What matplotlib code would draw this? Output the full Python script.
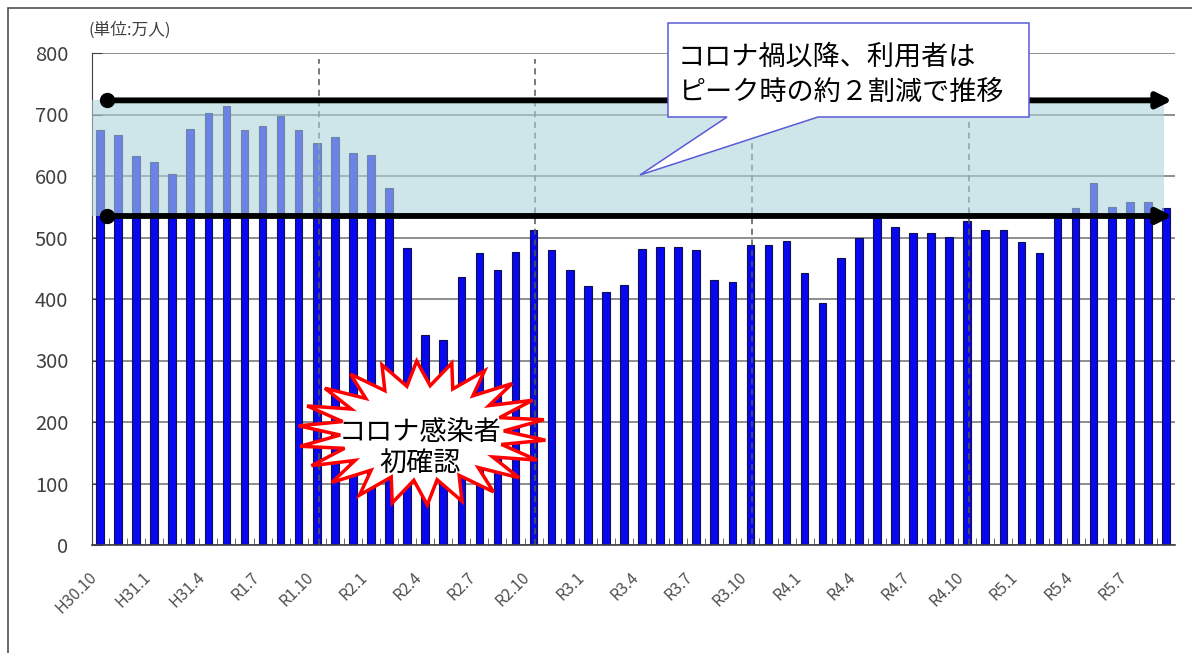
import numpy as np
import matplotlib
matplotlib.use("Agg")
import matplotlib.pyplot as plt
from matplotlib.patches import Polygon, Rectangle

plt.rcParams['font.family'] = ['Noto Sans CJK JP', 'DejaVu Sans']

# monthly riders (10k people), H30.10 .. R5.9
riders = [675, 667, 633, 622, 603, 676, 702, 714, 675, 682, 697, 675,
          654, 663, 637, 634, 581, 483, 342, 333, 435, 474, 447, 476,
          513, 479, 447, 421, 411, 423, 481, 485, 485, 479, 431, 427,
          488, 488, 495, 443, 393, 466, 499, 531, 517, 507, 507, 501,
          527, 513, 512, 492, 474, 531, 548, 588, 550, 557, 557, 548]
tick_labels = ['H30.10', 'H31.1', 'H31.4', 'R1.7', 'R1.10', 'R2.1', 'R2.4',
               'R2.7', 'R2.10', 'R3.1', 'R3.4', 'R3.7', 'R3.10', 'R4.1',
               'R4.4', 'R4.7', 'R4.10', 'R5.1', 'R5.4', 'R5.7']
october_idx = [12, 24, 36, 48]
peak_level = 723
covid_level = 535

W, H = 1192, 653
fig = plt.figure(figsize=(W / 100, H / 100), dpi=100)
ax = fig.add_axes([92 / W, 1 - 545 / H, (1175 - 92) / W, (545 - 53) / H])

def px(x, y):
    # pixel position (top-left origin) -> figure fraction
    return (x / W, 1 - y / H)

x = np.arange(len(riders))
ax.bar(x, riders, width=0.42, color='#0808f0', edgecolor='#10104a',
       linewidth=0.8, zorder=2)

ax.set_xlim(-0.44, len(riders) - 0.5)
ax.set_ylim(0, 800)
ax.set_yticks(range(0, 801, 100))
ax.yaxis.grid(True, color='#7a7a7a', linewidth=1.2, zorder=0.5)
ax.set_axisbelow(True)
ax.tick_params(axis='y', direction='in', length=7, pad=17, labelsize=14.5,
               labelcolor='#404040', color='#404040')
ax.set_xticks(x[::3])
ax.set_xticklabels(tick_labels, rotation=45, ha='right', va='top',
                   fontsize=11.5, color='#505050')
ax.set_xticks(x[:-1] + 0.5, minor=True)
ax.tick_params(axis='x', which='major', length=0, pad=17)
ax.tick_params(axis='x', which='minor', direction='in', length=5,
               color='#505050')
for s in ['top', 'right']:
    ax.spines[s].set_visible(False)
ax.spines['left'].set_color('#404040')
ax.spines['bottom'].set_color('#404040')
ax.spines['bottom'].set_linewidth(1.2)

# October separators
for i in october_idx:
    ax.plot([i + 0.1, i + 0.1], [0, 790], color='#555555', lw=1.1,
            dashes=(4, 3), zorder=2.5)

# post-covid range band
ax.add_patch(Rectangle((-0.44, covid_level), 58.9 + 0.44,
                       peak_level - covid_level, facecolor='#aed6dc',
                       alpha=0.6, edgecolor='none', zorder=3))

# reference arrows
for lvl in [peak_level, covid_level]:
    ax.annotate('', xy=(59.35, lvl), xytext=(0.35, lvl),
                arrowprops=dict(arrowstyle='-|>,head_length=0.9,head_width=0.45',
                                color='black', lw=4.2, shrinkA=0, shrinkB=0),
                zorder=4, annotation_clip=False)
    ax.plot(0.39, lvl, 'o', color='black', ms=10, zorder=4, clip_on=False)

fig.text(*px(88, 30), '(単位:万人)', fontsize=12, color='#404040',
         va='center', ha='left')

# callout box
box = [(668, 23), (1029, 23), (1029, 117), (818, 117), (640, 175),
       (727, 117), (668, 117)]
fig.patches.append(Polygon([px(a, b) for a, b in box], closed=True,
                           facecolor='white', edgecolor='#5a5ad8', lw=1.1,
                           transform=fig.transFigure, zorder=6))
fig.text(*px(678, 57), 'コロナ禍以降、利用者は', fontsize=19.5,
         va='center', ha='left', zorder=7)
fig.text(*px(678, 92), 'ピーク時の約２割減で推移', fontsize=19.5,
         va='center', ha='left', zorder=7)

# starburst
n = 22
t = np.linspace(0, 2 * np.pi, 2 * n + 1)[:-1] + 0.1
r = np.where(np.arange(2 * n) % 2 == 0, 1.0, 0.66)
cx, cy, rx, ry = 422, 433, 124, 72
star = [px(cx + rx * rr * np.cos(tt), cy + ry * rr * np.sin(tt))
        for rr, tt in zip(r, t)]
fig.patches.append(Polygon(star, closed=True, facecolor='white',
                           edgecolor='#ff0000', lw=2.5,
                           transform=fig.transFigure, zorder=6))
fig.text(*px(420, 432), 'コロナ感染者', fontsize=19.5, va='center',
         ha='center', zorder=7)
fig.text(*px(420, 463), '初確認', fontsize=19.5, va='center',
         ha='center', zorder=7)

# outer frame
fig.patches.append(Rectangle(px(8, 700), 1300 / W, 692 / H, fill=False,
                             edgecolor='#505050', lw=1.2,
                             transform=fig.transFigure))

fig.savefig('out.png', dpi=100)
